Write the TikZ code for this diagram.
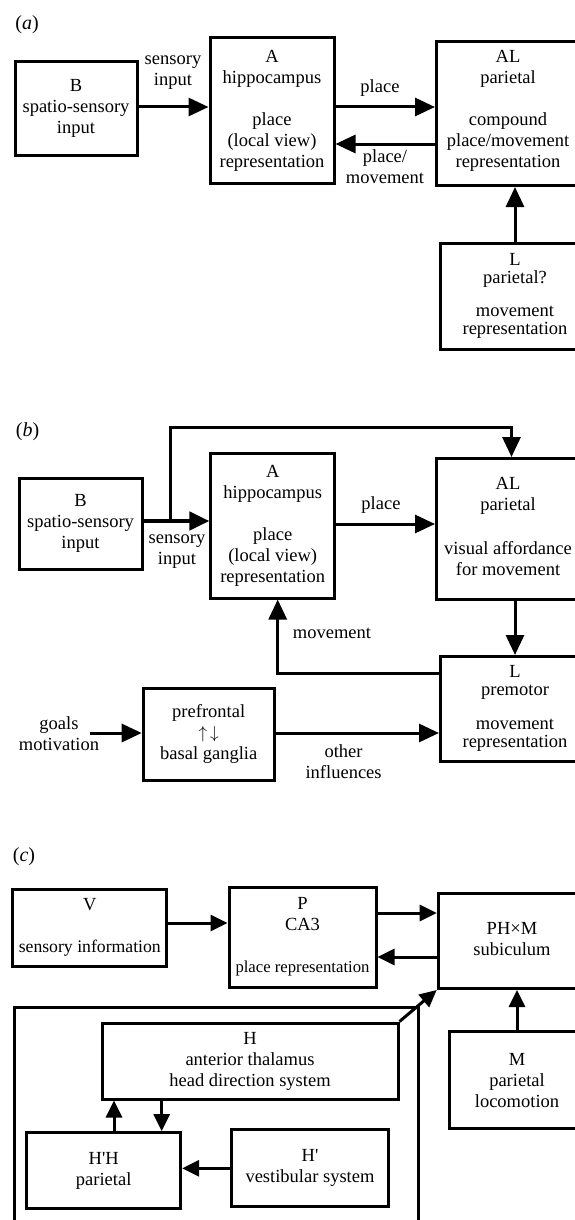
\documentclass[tikz,border=0pt]{standalone}
\usepackage{fontspec}
\setmainfont{Liberation Serif}
\usetikzlibrary{arrows.meta}

\tikzset{
  box/.style={draw, line width=3pt, align=center, inner sep=0pt},
  txt/.style={align=center, inner sep=0pt},
  tight/.style={font=\fontsize{18.5}{18}\selectfont},
  arr/.style={line width=3pt, -{Triangle[length=20pt,width=18pt]}},
  arrc/.style={line width=3pt, -{Triangle[length=17pt,width=16pt]}},
}

\begin{document}
\begin{tikzpicture}[x=1pt, y=-1pt, font=\fontsize{18.5}{21}\selectfont]
\useasboundingbox (0,0) rectangle (575,1220);
% (a)
\node[txt, font=\fontsize{20}{21}\selectfont] (taga) at (27,25) {(\textit{a})};
\node[box, minimum width=122, minimum height=93] (Ba) at (76,108.5) {B\\spatio-sensory\\input};
\node[box, minimum width=124, minimum height=145] (Aa) at (272,110.5) {A\\hippocampus\\[21pt]place\\(local view)\\representation};
% AL and L run off the right edge
\node[box, anchor=north west, minimum width=200, minimum height=144] (ALa) at (435,40) {};
\node[txt] (ALatxt) at (508,111) {AL\\parietal\\[21pt]compound\\place/movement\\representation};
\node[box, anchor=north west, minimum width=200, minimum height=106] (La) at (439,242) {};
\node[txt, tight] (Latxt) at (515,296) {L\\parietal?\\[15pt]movement\\representation};
%  arrows and their labels
\draw[arr] (Ba.east |- 0,107) -- (Aa.west |- 0,107);
\node[txt] (sensa) at (173,73) {sensory\\input};
\draw[arr] (Aa.east |- 0,107) -- (ALa.west |- 0,107);
\node[txt] (placea) at (380,88) {place};
\draw[arr] (ALa.west |- 0,144) -- (Aa.east |- 0,144);
\node[txt] (pmova) at (385,167) {place/\\movement};
\draw[arr] (Latxt |- La.north) -- (Latxt |- ALa.south);

% (b)
\node[txt, font=\fontsize{20}{21}\selectfont] (tagb) at (27.5,432) {(\textit{b})};
\node[box, minimum width=123, minimum height=91] (Bb) at (80.5,523.5) {B\\spatio-sensory\\input};
\node[box, minimum width=123.5, minimum height=145] (Ab) at (272.7,525.5) {A\\hippocampus\\[21pt]place\\(local view)\\representation};
\node[box, anchor=north west, minimum width=200, minimum height=141] (ALb) at (435,457) {};
\node[txt] (ALbtxt) at (508,526) {AL\\parietal\\[23pt]visual affordance\\for movement};
\node[box, anchor=north west, minimum width=200, minimum height=105] (Lb) at (439,655) {};
\node[txt, tight] (Lbtxt) at (515,708) {L\\premotor\\[16pt]movement\\representation};
\node[box, minimum width=131, minimum height=92] (PBb) at (208.7,734) {prefrontal\\$\uparrow\,\downarrow$\\basal ganglia};
\node[txt] (goalsb) at (59,734) {goals\\motivation};
%  arrows and their labels
\coordinate (splitb) at (170.5,521);
\coordinate (overb) at (511.5,427);
\draw[arr, line width=4.5pt] (Bb.east |- splitb) -- (Ab.west |- splitb);
\draw[arr] (splitb) |- (overb) -- (overb |- ALb.north);
\node[txt] (sensb) at (177,552) {sensory\\input};
\draw[arr] (Ab.east |- 0,524) -- (ALb.west |- 0,524);
\node[txt] (placeb) at (381,505) {place};
\draw[arr] (Lbtxt |- ALb.south) -- (Lbtxt |- Lb.north);
\draw[arr] (Lb.west |- 0,673) -| ([xshift=5pt]Ab.south);
\node[txt] (moveb) at (332,633) {movement};
\coordinate (goalsin) at (90,733);
\draw[arr] (goalsin) -- (goalsin -| PBb.west);
\draw[arr] (PBb.east |- goalsin) -- (Lb.west |- goalsin);
\node[txt] (otherb) at (343.6,762) {other\\influences};

% (c)
\node[txt, font=\fontsize{20}{21}\selectfont] (tagc) at (24,857) {(\textit{c})};
\node[box, minimum width=154, minimum height=77] (V) at (89.8,927.5) {V\\[21pt]{\fontsize{17.7}{21}\selectfont sensory information}};
\node[box, minimum width=147, minimum height=100] (P) at (302.5,937) {P\\CA3\\[21pt]{\fontsize{16.7}{21}\selectfont place representation}};
\node[box, anchor=north west, minimum width=200, minimum height=95] (PHM) at (436.7,892) {};
\node[txt] (PHMtxt) at (512,939) {PH×M\\subiculum};
% frame round the head direction part, open below
\node[box, anchor=north west, minimum width=404, minimum height=260] (frame) at (12.7,1006) {};
\node[box, minimum width=296, minimum height=76] (H) at (250,1061) {H\\anterior thalamus\\head direction system};
\node[box, anchor=north west, minimum width=200, minimum height=97] (M) at (448,1030) {};
\node[txt] (Mtxt) at (517,1081) {M\\parietal\\locomotion};
\node[box, minimum width=154, minimum height=75.6] (HpH) at (103.7,1170.5) {H\textquotesingle H\\parietal};
\node[box, minimum width=156.7, minimum height=76.7] (Hp) at (310,1168.3) {H\textquotesingle\\vestibular system};
%  arrows
\draw[arrc] (V.east |- 0,923) -- (P.west |- 0,923);
\draw[arrc] (P.east |- 0,913) -- (PHM.west |- 0,913);
\draw[arrc] (PHM.west |- 0,957) -- (P.east |- 0,957);
\draw[arrc] (H.north east) -- (PHM.south west);
\draw[arrc] (Mtxt |- M.north) -- (Mtxt |- PHM.south);
\draw[arrc] (Hp.west) -- (Hp.west -| HpH.east);
\draw[arrc] ([xshift=10.3pt]HpH.north) -- ([xshift=10.3pt]HpH.north |- H.south);
\draw[arrc] ([xshift=58pt]HpH.north |- H.south) -- ([xshift=58pt]HpH.north);
\end{tikzpicture}
\end{document}
